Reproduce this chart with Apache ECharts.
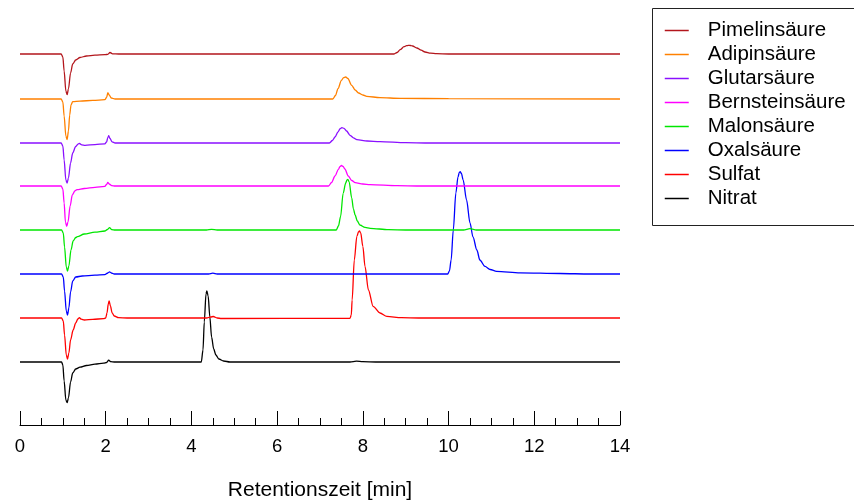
<!DOCTYPE html>
<html>
<head>
<meta charset="utf-8">
<style>
  html, body { margin: 0; padding: 0; background: #fff; }
  #chart { width: 854px; height: 502px; }
</style>
<script src="https://cdn.jsdelivr.net/npm/echarts@6/dist/echarts.min.js"></script>
</head>
<body>
<div id="chart"></div>
<script>
// Ion chromatograms of the single standards, stacked one above the other.
// Each trace: [retention time in min, detector signal relative to its baseline].

const traceNames = ['Pimelinsäure', 'Adipinsäure', 'Glutarsäure', 'Bernsteinsäure',
                    'Malonsäure', 'Oxalsäure', 'Sulfat', 'Nitrat'];
const traceColors = ['#b3161c', '#ff8000', '#8a10ff', '#ff00ff',
                     '#00e600', '#0000ff', '#ff0000', '#000000'];
// vertical shift applied to each trace so they do not overlap
const stackOffset = [371, 326, 282, 239, 195, 151, 107, 63];

const pimelinsaeure = [
  [0, 0], [0.96, 0], [1.0, -3], [1.03, -17], [1.07, -37], [1.10, -40.7], [1.13, -35],
  [1.18, -19], [1.23, -10], [1.3, -6], [1.4, -3.5], [1.55, -2], [1.75, -1.2], [1.98, -0.7],
  [2.05, -0.3], [2.1, 1.5], [2.16, 0.2], [2.3, 0], [8.72, 0], [8.8, 1.5], [8.87, 4.3],
  [8.96, 7.3], [9.02, 8.3], [9.06, 8.6], [9.11, 8.5], [9.16, 8], [9.26, 6], [9.36, 3.8],
  [9.45, 2], [9.58, 0.8], [9.72, 0.3], [10.0, 0], [14, 0]
];
const adipinsaeure = [
  [0, 0], [0.96, 0], [1.0, -3], [1.03, -17], [1.07, -37], [1.10, -40.6], [1.13, -32],
  [1.16, -16], [1.19, -6], [1.23, -2.6], [1.4, -2.1], [1.7, -1.4], [1.98, -0.7],
  [2.02, 1.5], [2.05, 6.4], [2.08, 4], [2.13, 1], [2.22, 0], [7.3, 0], [7.36, 3.5],
  [7.42, 10.4], [7.5, 18.7], [7.55, 21.3], [7.6, 22], [7.65, 20.5], [7.74, 13.7],
  [7.82, 9], [7.9, 6], [8.0, 4], [8.09, 2.7], [8.4, 1.3], [8.87, 0.7], [10, 0.3], [14, 0]
];
const glutarsaeure = [
  [0, 0], [0.96, 0], [1.0, -3], [1.03, -17], [1.07, -37], [1.10, -40], [1.13, -35],
  [1.18, -20], [1.23, -10], [1.3, -3.5], [1.36, -0.8], [1.39, -0.5], [1.44, -1.8],
  [1.52, -2.3], [1.75, -1.6], [1.98, -0.8], [2.02, 1], [2.05, 5.5], [2.07, 7.3],
  [2.1, 4.5], [2.15, 1.2], [2.22, 0], [7.22, 0], [7.29, 2.5], [7.35, 6], [7.42, 11],
  [7.47, 14.3], [7.51, 15.4], [7.56, 14.6], [7.62, 12], [7.7, 7.7], [7.78, 5.2],
  [7.86, 3.4], [8.1, 2], [8.4, 1.4], [9.0, 0.3], [9.5, 0], [14, 0]
];
const bernsteinsaeure = [
  [0, 0], [0.96, 0], [1.0, -3], [1.03, -17], [1.06, -36], [1.09, -40.4], [1.12, -36],
  [1.17, -20], [1.22, -9], [1.28, -5], [1.33, -3.7], [1.5, -2.5], [1.75, -1.3],
  [1.98, -0.4], [2.02, 1.5], [2.05, 3.6], [2.08, 2], [2.14, 0.4], [2.22, 0],
  [7.2, 0], [7.27, 3.5], [7.35, 10], [7.43, 16.7], [7.47, 19.6], [7.5, 20.5],
  [7.54, 19.5], [7.58, 17], [7.66, 10], [7.74, 5.5], [7.82, 3.3], [8.0, 2], [8.17, 1.3],
  [8.8, 0.3], [9.3, 0], [14, 0]
];
const malonsaeure = [
  [0, 0], [0.97, 0], [1.01, -3], [1.04, -17], [1.08, -37], [1.11, -41], [1.14, -36],
  [1.19, -20], [1.24, -11], [1.3, -7.5], [1.34, -6.7], [1.5, -4], [1.75, -2.2],
  [1.98, -1], [2.04, 0.5], [2.09, 2.3], [2.14, 0.4], [2.22, 0], [4.35, 0], [4.47, 0.7],
  [4.6, 0], [7.38, 0], [7.43, 4], [7.48, 13.3], [7.54, 36.7], [7.6, 47], [7.63, 50],
  [7.65, 50.7], [7.68, 48], [7.74, 32], [7.78, 21], [7.82, 15], [7.87, 9], [7.93, 5],
  [8.05, 2.6], [8.17, 1.7], [8.6, 0.3], [9.0, 0], [10.35, 0], [10.5, 1.3], [10.65, 0], [14, 0]
];
const oxalsaeure = [
  [0, 0], [0.97, 0], [1.01, -3], [1.04, -17], [1.08, -37], [1.11, -41], [1.14, -34],
  [1.18, -18], [1.23, -7], [1.3, -3], [1.45, -2], [1.75, -1.2], [1.98, -0.6],
  [2.05, 1], [2.09, 2.2], [2.13, 1], [2.2, 0], [4.4, 0], [4.5, 0.8], [4.6, 0],
  [9.98, 0], [10.02, 3], [10.06, 14], [10.11, 44], [10.17, 81], [10.22, 97],
  [10.25, 101.5], [10.27, 102.3], [10.3, 100.5], [10.34, 94], [10.42, 74], [10.5, 51],
  [10.57, 37], [10.66, 24], [10.73, 14], [10.85, 7.6], [10.97, 4.5], [11.12, 2.6],
  [11.67, 1.2], [12.6, 0.5], [13.3, 0], [14, 0]
];
const sulfat = [
  [0, 0], [0.97, 0], [1.01, -3], [1.04, -17], [1.08, -37], [1.11, -41], [1.14, -35],
  [1.18, -22], [1.24, -12], [1.3, -5], [1.35, -1], [1.385, 0.3], [1.43, -1.2],
  [1.5, -2], [1.7, -1.4], [1.95, -0.6], [2.0, 0], [2.03, 5], [2.06, 14], [2.08, 17],
  [2.11, 12], [2.15, 5], [2.2, 2], [2.3, 0.3], [2.5, 0], [4.35, 0], [4.45, 1],
  [4.51, 1.5], [4.6, 0], [4.7, -0.5], [7.7, -0.3], [7.73, 3], [7.75, 18], [7.8, 58],
  [7.86, 81.6], [7.9, 86.3], [7.92, 87], [7.95, 85], [8.0, 71.6], [8.05, 51.6],
  [8.13, 28], [8.24, 11.6], [8.4, 5], [8.56, 1.6], [8.9, 0.3], [9.3, 0], [14, 0]
];
const nitrat = [
  [0, 0], [0.97, 0], [1.0, -3], [1.03, -19], [1.07, -38], [1.10, -40.7], [1.13, -36],
  [1.18, -20], [1.23, -11], [1.3, -7], [1.4, -5.2], [1.55, -3.5], [1.75, -2.2],
  [1.95, -1.2], [2.02, -0.5], [2.07, 1.8], [2.12, 0.3], [2.2, 0], [4.23, 0], [4.27, 12],
  [4.3, 40], [4.34, 68], [4.36, 71], [4.39, 66], [4.43, 45], [4.47, 25], [4.52, 13],
  [4.57, 7], [4.64, 3], [4.75, 1], [4.9, 0], [7.7, 0], [7.85, 0.8], [8.0, 0.3],
  [8.3, 0], [14, 0]
];

const traceData = [pimelinsaeure, adipinsaeure, glutarsaeure, bernsteinsaeure,
                   malonsaeure, oxalsaeure, sulfat, nitrat];

// x axis ticks
const timeMin = 0, timeMax = 14, timeStep = 2;

const font = 'Liberation Sans, Arial, sans-serif';

const series = traceNames.map((name, i) => ({
  name: name,
  type: 'line',
  data: traceData[i].map(([t, v]) => [t, v + stackOffset[i]]),
  symbol: 'none',
  smooth: 0.3,
  smoothMonotone: 'x',
  color: traceColors[i],
  lineStyle: { color: traceColors[i], width: 1.3 },
  itemStyle: { color: traceColors[i] },
  z: 2 + (traceNames.length - i),
  silent: true
})).reverse();

const chart = echarts.init(document.getElementById('chart'), null, { renderer: 'canvas' });
chart.setOption({
  animation: false,
  backgroundColor: '#ffffff',
  grid: { left: 20, right: 234, top: 25, bottom: 77, containLabel: false, outerBoundsMode: 'none' },
  // legend frame runs on past the right edge of the canvas
  graphic: [{
    type: 'rect',
    silent: true,
    shape: { x: 652.5, y: 8.5, width: 260, height: 217 },
    style: { fill: 'none', stroke: '#222', lineWidth: 1 }
  }],
  legend: {
    data: traceNames,
    orient: 'vertical',
    left: 652,
    top: 8,
    padding: [12, 20, 17, 12],
    borderWidth: 0,
    itemWidth: 24,
    itemHeight: 14,
    itemGap: 3,
    itemStyle: { opacity: 0 },
    lineStyle: { width: 1.5 },
    textStyle: { color: '#000', fontSize: 20.5, lineHeight: 20, fontFamily: font, padding: [0, 0, 0, 14] }
  },
  xAxis: {
    type: 'value',
    min: timeMin,
    max: timeMax,
    interval: timeStep,
    axisLine: { show: true, lineStyle: { color: '#000', width: 1 } },
    axisTick: { show: true, inside: true, length: 14, lineStyle: { color: '#000', width: 1 } },
    minorTick: { show: true, splitNumber: 4, length: 7, lineStyle: { color: '#000', width: 1 } },
    splitLine: { show: false },
    minorSplitLine: { show: false },
    axisLabel: { color: '#000', fontSize: 18.5, fontFamily: font, margin: 12 },
    name: 'Retentionszeit [min]',
    nameLocation: 'middle',
    nameGap: 55,
    nameTextStyle: { color: '#000', fontSize: 21, fontFamily: font }
  },
  yAxis: {
    type: 'value',
    min: 0,
    max: 400,
    show: false,
    splitLine: { show: false }
  },
  series: series
});
</script>
</body>
</html>
